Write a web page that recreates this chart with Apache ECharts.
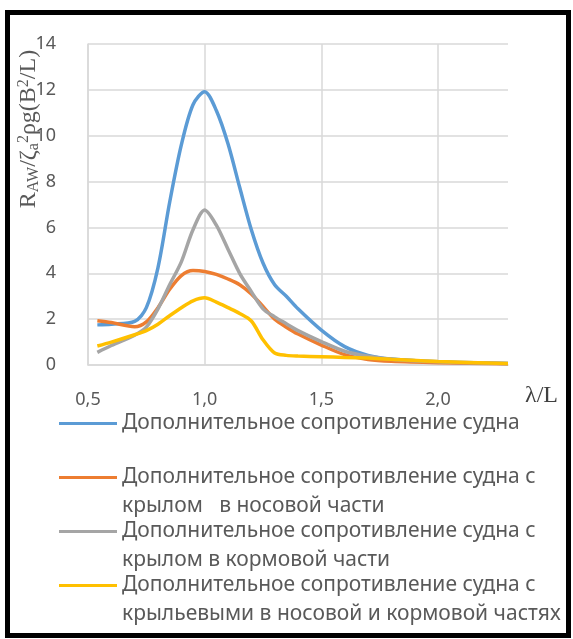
<!DOCTYPE html>
<html>
<head>
<meta charset="utf-8">
<script src="https://cdn.jsdelivr.net/npm/echarts@6/dist/echarts.min.js"></script>
<style>
  html, body { margin: 0; padding: 0; background: #ffffff; }
  #chart { width: 573px; height: 639px; }
</style>
</head>
<body>
<div id="chart"></div>
<script>
// Relative wavelength λ/L
const lambda = [0.54, 0.6, 0.7, 0.75, 0.8, 0.85, 0.9, 0.95, 1.0, 1.05, 1.1, 1.15, 1.2, 1.25, 1.3, 1.35, 1.4, 1.5, 1.6, 1.7, 1.8, 2.0, 2.3];

// Added resistance coefficient R_AW / (ζa² ρ g B²/L)
const bareHull   = [1.75, 1.78, 1.9, 2.5, 4.25, 7.1, 9.6, 11.35, 11.92, 11.1, 9.65, 7.75, 5.9, 4.45, 3.5, 3.0, 2.45, 1.52, 0.8, 0.42, 0.26, 0.14, 0.06];
const bowFoil    = [1.93, 1.85, 1.67, 1.88, 2.5, 3.3, 3.9, 4.12, 4.08, 3.95, 3.75, 3.5, 3.1, 2.55, 2.0, 1.65, 1.35, 0.87, 0.45, 0.24, 0.16, 0.1, 0.05];
const sternFoil  = [0.55, 0.85, 1.3, 1.65, 2.45, 3.5, 4.5, 5.9, 6.76, 6.1, 5.05, 4.0, 3.2, 2.45, 2.1, 1.8, 1.5, 1.02, 0.6, 0.38, 0.25, 0.14, 0.06];
const bothFoils  = [0.83, 1.0, 1.32, 1.5, 1.78, 2.15, 2.5, 2.8, 2.93, 2.74, 2.5, 2.25, 1.92, 1.1, 0.52, 0.42, 0.39, 0.36, 0.33, 0.3, 0.25, 0.15, 0.06];

const seriesNames = [
  'Дополнительное сопротивление судна',
  'Дополнительное сопротивление судна с крылом   в носовой части',
  'Дополнительное сопротивление судна с крылом в кормовой части',
  'Дополнительное сопротивление судна с крыльевыми в носовой и кормовой частях'
];
// Wrapped legend labels (two lines per entry)
const legendLabels = [
  'Дополнительное сопротивление судна\n ',
  'Дополнительное сопротивление судна с\nкрылом   в носовой части',
  'Дополнительное сопротивление судна с\nкрылом в кормовой части',
  'Дополнительное сопротивление судна с\nкрыльевыми в носовой и кормовой частях'
];
const seriesColors = ['#5B9BD5', '#ED7D31', '#A5A5A5', '#FFC000'];
const seriesValues = [bareHull, bowFoil, sternFoil, bothFoils];

const yTicks = [0, 2, 4, 6, 8, 10, 12, 14];
const xTicks = [0.5, 1.0, 1.5, 2.0];

const sans = '"Noto Sans", "Open Sans", sans-serif';
const serif = '"Liberation Serif", "DejaVu Serif", serif';
const gridColor = '#d9d9d9';
const textColor = '#595959';

const chart = echarts.init(document.getElementById('chart'), null, { renderer: 'canvas' });

const series = seriesValues.map((vals, i) => ({
  name: seriesNames[i],
  type: 'line',
  data: lambda.map((x, k) => [x, vals[k]]),
  smooth: 0.3,
  showSymbol: false,
  symbol: 'none',
  lineStyle: { color: seriesColors[i], width: 3.5 },
  itemStyle: { color: seriesColors[i] },
  emphasis: { disabled: true },
  z: 2 + i
}));

chart.setOption({
  animation: false,
  backgroundColor: '#ffffff',
  grid: { left: 88, right: 65, top: 44, bottom: 274, containLabel: false },
  xAxis: {
    type: 'value',
    min: 0.5,
    max: 2.3,
    interval: 0.5,
    axisLine: { show: true, lineStyle: { color: gridColor, width: 1.5 } },
    axisTick: { show: false },
    axisLabel: {
      margin: 26,
      fontFamily: sans,
      fontSize: 18,
      color: textColor,
      formatter: v => xTicks.some(t => Math.abs(t - v) < 1e-6) ? v.toFixed(1).replace('.', ',') : ''
    },
    splitLine: {
      show: true,
      lineStyle: { color: [gridColor, gridColor, gridColor, gridColor, 'rgba(0,0,0,0)'], width: 1.5 }
    }
  },
  yAxis: {
    type: 'value',
    min: yTicks[0],
    max: yTicks[yTicks.length - 1],
    interval: 2,
    axisLine: { show: true, lineStyle: { color: gridColor, width: 1.5 } },
    axisTick: { show: false },
    axisLabel: { margin: 32, fontFamily: sans, fontSize: 18, color: textColor },
    splitLine: { show: true, lineStyle: { color: gridColor, width: 1.5 } }
  },
  legend: {
    orient: 'vertical',
    left: 59,
    top: 409,
    padding: 0,
    itemWidth: 58,
    itemHeight: 32,
    itemGap: -4,
    selectedMode: false,
    icon: 'path://M0,0L58,0L58,3L0,3Z M0,32L58,32Z',
    itemStyle: { borderWidth: 0 },
    textStyle: { fontFamily: sans, fontSize: 21, color: textColor, lineHeight: 29 },
    formatter: name => legendLabels[seriesNames.indexOf(name)],
    data: seriesNames
  },
  graphic: [
    {
      type: 'rect',
      shape: { x: 7.5, y: 12.5, width: 561, height: 623 },
      style: { fill: 'none', stroke: '#000000', lineWidth: 5 },
      silent: true,
      z: 100
    },
    {
      // y-axis title, read bottom to top
      type: 'text',
      x: 29,
      y: 129,
      rotation: Math.PI / 2,
      silent: true,
      style: {
        text: '{m|R}{s|AW}{m|/ζ}{s|a}{p|2}{m|ρg(B}{p|2}{m|/L)}',
        align: 'center',
        verticalAlign: 'middle',
        rich: {
          m: { fontFamily: serif, fontSize: 24, lineHeight: 26, fill: textColor },
          s: { fontFamily: serif, fontSize: 16, lineHeight: 13, fill: textColor, verticalAlign: 'bottom' },
          p: { fontFamily: serif, fontSize: 16, lineHeight: 13, fill: textColor, verticalAlign: 'top' }
        }
      }
    },
    {
      // x-axis title
      type: 'text',
      x: 525,
      y: 396,
      silent: true,
      style: {
        text: 'λ/L',
        fontFamily: serif,
        fontSize: 24,
        fill: '#404040',
        align: 'left',
        verticalAlign: 'middle'
      }
    }
  ],
  series: series
});
</script>
</body>
</html>
